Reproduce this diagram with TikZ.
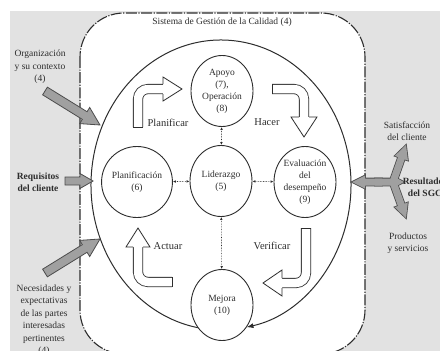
\documentclass[tikz,border=0pt]{standalone}
\usepackage{fontspec}
\setmainfont{Liberation Serif}
\usetikzlibrary{shapes.geometric,arrows.meta,calc}

\definecolor{bggray}{RGB}{226,226,226}
\definecolor{arrowgray}{RGB}{160,160,160}
\definecolor{ink}{RGB}{45,45,45}

% Gray block arrow from #2 (tail) to #3 (tip):
% #4 shaft half-width, #5 head half-width, #6 head length, #1 path style
\newcommand\grayarrow[6][ext]{%
  \coordinate (ga-h) at ($(#3)!#6!(#2)$);
  \path[#1] ($(#2)!#4!90:(#3)$) -- ($(ga-h)!#4!90:(#3)$) -- ($(ga-h)!#5!90:(#3)$)
    -- (#3) -- ($(ga-h)!#5!-90:(#3)$) -- ($(ga-h)!#4!-90:(#3)$) -- ($(#2)!#4!-90:(#3)$) -- cycle;
}

\begin{document}
\begin{tikzpicture}[x=1pt,y=-1pt,
  txt/.style={font=\fontsize{9.5}{12.5}\selectfont, align=center, text=ink, inner sep=0pt},
  boldtxt/.style={txt, font=\fontsize{9.5}{12.5}\selectfont\bfseries},
  phase/.style={ellipse, draw=ink, line width=0.9pt, minimum width=62pt, minimum height=71pt,
    inner sep=0pt, align=center, font=\fontsize{9.5}{12}\selectfont, fill=white, text=ink},
  cyclelbl/.style={font=\fontsize{10.5}{12}\selectfont, text=ink, inner sep=0pt},
  link/.style={densely dotted, draw=ink, line width=0.6pt,
    {Latex[length=3pt,width=2.6pt]}-{Latex[length=3pt,width=2.6pt]}},
  bigloop/.style={draw=ink, line width=1pt, -{Latex[length=7pt,width=5pt]}},
  pdca/.style={draw=ink, line width=0.8pt, double=white, double distance=8.5pt, rounded corners=10pt},
  pdcaedge/.style={draw=ink, line width=0.8pt, line join=miter},
  ext/.style={fill=arrowgray, draw=ink!85, line width=0.8pt, line join=miter},
  extrim/.style={draw=ink!85, line width=1.6pt, line join=miter},
  extfill/.style={fill=arrowgray},
]
\useasboundingbox (0,0) rectangle (440,351);
\clip (0,0) rectangle (440,351);

% backdrop and system frame
\fill[white] (0,0) rectangle (440,351);
\fill[bggray] (10,11) rectangle (440,351);
\draw[fill=white, draw=ink, line width=1.1pt, dash pattern=on 11pt off 1.5pt on 1.2pt off 1.5pt,
  rounded corners=44pt] (80,13) rectangle (365,354);

\node[txt] (title) at (222,22) {Sistema de Gestión de la Calidad (4)};

% PDCA loop closing on Mejora
\draw[bigloop] (221,185) ++(-100.2:130pt and 145pt)
  arc[start angle=-100.2, end angle=-438.7, x radius=130pt, y radius=145pt];

% clauses
\node[phase] (apoyo) at (222,91) {Apoyo\\(7),\\Operación\\(8)};
\node[phase] (plan) at (137,182) {Planificación\\(6)};
\node[phase] (lider) at (221,181) {Liderazgo\\(5)};
\node[phase] (eval) at (305,182) {Evaluación\\del\\desempeño\\(9)};
\node[phase] (mejora) at (222,305) {Mejora\\(10)};

\draw[link] (plan) -- (lider);
\draw[link] (lider) -- (eval);
\draw[link] (apoyo) -- (lider);
\draw[link] (lider) -- (mejora);

% Planificar
\draw[pdca] (138,127) |- (163,89);
\draw[pdcaedge] (133,127) -- (143,127);
\fill[white] (163,77) -- (182,89) -- (163,101) -- cycle;
\draw[pdcaedge] (163,84) -- (163,77) -- (182,89) -- (163,101) -- (163,94);
\node[cyclelbl] (lplan) at (168,123) {Planificar};

% Hacer
\draw[pdca] (272,89) -| (304,117);
\draw[pdcaedge] (272,84) -- (272,94);
\fill[white] (291,117) -- (304,137) -- (317,117) -- cycle;
\draw[pdcaedge] (299,117) -- (291,117) -- (304,137) -- (317,117) -- (309,117);
\node[cyclelbl] (lhacer) at (267,122) {Hacer};

% Verificar
\draw[pdca] (306,228) |- (282,283);
\draw[pdcaedge] (301,228) -- (311,228);
\fill[white] (282,270) -- (263,283) -- (282,296) -- cycle;
\draw[pdcaedge] (282,278) -- (282,270) -- (263,283) -- (282,296) -- (282,288);
\node[cyclelbl] (lverif) at (272,246) {Verificar};

% Actuar
\draw[pdca] (172,282) -| (138,247);
\draw[pdcaedge] (172,277) -- (172,287);
\fill[white] (126,247) -- (138,228) -- (150,247) -- cycle;
\draw[pdcaedge] (133,247) -- (126,247) -- (138,228) -- (150,247) -- (143,247);
\node[cyclelbl] (lactuar) at (168,246) {Actuar};

% inputs
\node[txt] (org) at (40,67) {Organización\\y su contexto\\(4)};
\node[boldtxt] (req) at (38,182) {Requisitos\\del cliente};
\node[txt] (nec) at (44,320) {Necesidades y\\expectativas\\de las partes\\interesadas\\pertinentes\\(4)};

\coordinate (orgT) at (45,91);
\coordinate (orgP) at (100,125);
\coordinate (reqT) at (65,181);
\coordinate (reqP) at (93,181);
\coordinate (necT) at (45,273);
\coordinate (necP) at (100,239);
\grayarrow{orgT}{orgP}{4.5pt}{9.5pt}{18pt}
\grayarrow{reqT}{reqP}{4pt}{7.5pt}{13pt}
\grayarrow{necT}{necP}{4.5pt}{9.5pt}{18pt}

% outputs
\coordinate (hub) at (393,182);
\coordinate (hubL) at (382,182);
\coordinate (hubR) at (375,182);
\coordinate (outL) at (352,182);
\coordinate (outR) at (404,182);
\coordinate (outU) at (406,145);
\coordinate (outD) at (406,218);
\grayarrow[extrim]{hubL}{outL}{3.5pt}{6.5pt}{13pt}
\grayarrow[extrim]{hubR}{outR}{3.5pt}{6.5pt}{12pt}
\grayarrow[extrim]{hub}{outU}{3.5pt}{7pt}{14pt}
\grayarrow[extrim]{hub}{outD}{3.5pt}{7pt}{14pt}
\grayarrow[extfill]{hubL}{outL}{3.5pt}{6.5pt}{13pt}
\grayarrow[extfill]{hubR}{outR}{3.5pt}{6.5pt}{12pt}
\grayarrow[extfill]{hub}{outU}{3.5pt}{7pt}{14pt}
\grayarrow[extfill]{hub}{outD}{3.5pt}{7pt}{14pt}

\node[txt] (sat) at (407,131) {Satisfacción\\del cliente};
\node[boldtxt] (res) at (425,187) {Resultados\\del SGC};
\node[txt] (prod) at (408,243) {Productos\\y servicios};
\end{tikzpicture}
\end{document}
